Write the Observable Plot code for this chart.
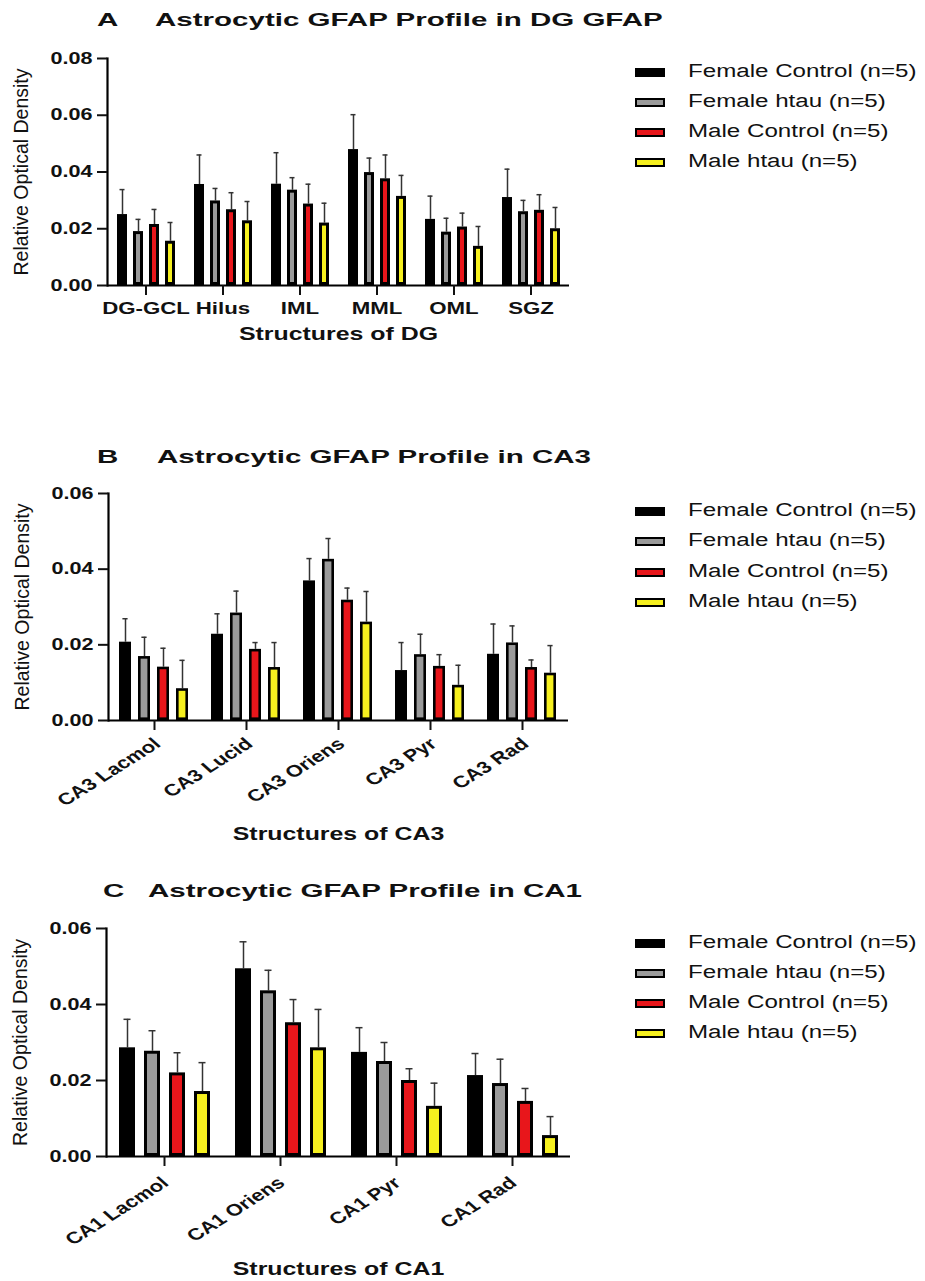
<!DOCTYPE html>
<html>
<head>
<meta charset="utf-8">
<script src="https://cdn.jsdelivr.net/npm/d3@7"></script>
<script src="https://cdn.jsdelivr.net/npm/@observablehq/plot@0.6"></script>
<style>
  body { margin: 0; background: #fff; }
  #fig { position: relative; width: 925px; height: 1281px; overflow: hidden; background: #fff;
         font-family: "Liberation Sans", Arial, Helvetica, sans-serif; color: #111; }
  .panel { position: absolute; left: 0; }
  .panel svg { overflow: visible; }
  .title { position: absolute; font-weight: bold; font-size: 18.5px; line-height: 18.5px; white-space: nowrap;
           transform: scaleX(1.595); transform-origin: 0 0; }
  .legend { position: absolute; left: 635px; }
  .item { position: absolute; left: 0; height: 30px; line-height: 30px; white-space: nowrap; font-size: 18px; }
  .sw { position: absolute; left: 0; top: 12px; width: 30px; height: 9px; box-sizing: border-box; border: 2px solid #000; }
  .lbl { position: absolute; left: 53px; top: 0; display: inline-block; transform: scaleX(1.34); transform-origin: 0 50%; }
  #fig svg text { font-family: "Liberation Sans", Arial, Helvetica, sans-serif; fill: #111; }
  g[aria-label="y-axis tick label"] { font-size: 16px; font-weight: bold; }
  g[aria-label="fx-axis tick label"] { font-size: 16px; font-weight: bold; }
  .rot g[aria-label="fx-axis tick label"] { font-size: 16.5px; }
  g[aria-label="y-axis label"] { font-size: 19.5px; font-weight: normal; }
  g[aria-label="fx-axis label"] { font-size: 19px; font-weight: bold; }
</style>
</head>
<body>
<div id="fig"></div>
<script>
// ---- shared series ----
const groups = ["Female Control (n=5)", "Female htau (n=5)", "Male Control (n=5)", "Male htau (n=5)"];
const colors = ["#000000", "#9a9a9a", "#e8161b", "#f6f01f"];
const yLabel = "Relative Optical Density";

// ---- Panel A: DG ----
const dgCats = ["DG-GCL", "Hilus", "IML", "MML", "OML", "SGZ"];
const dgFemaleControl    = [0.0250, 0.0356, 0.0357, 0.0479, 0.0233, 0.0310];
const dgFemaleControlSem = [0.0088, 0.0104, 0.0111, 0.0123, 0.0082, 0.0100];
const dgFemaleHtau       = [0.0190, 0.0298, 0.0336, 0.0398, 0.0188, 0.0260];
const dgFemaleHtauSem    = [0.0043, 0.0044, 0.0044, 0.0051, 0.0049, 0.0040];
const dgMaleControl      = [0.0215, 0.0267, 0.0287, 0.0376, 0.0206, 0.0265];
const dgMaleControlSem   = [0.0053, 0.0060, 0.0070, 0.0084, 0.0049, 0.0055];
const dgMaleHtau         = [0.0156, 0.0228, 0.0220, 0.0314, 0.0138, 0.0200];
const dgMaleHtauSem      = [0.0066, 0.0068, 0.0070, 0.0074, 0.0070, 0.0075];
const dgTicks = [0, 0.02, 0.04, 0.06, 0.08];

// ---- Panel B: CA3 ----
const ca3Cats = ["CA3 Lacmol", "CA3 Lucid", "CA3 Oriens", "CA3 Pyr", "CA3 Rad"];
const ca3FemaleControl    = [0.0207, 0.0228, 0.0369, 0.0132, 0.0175];
const ca3FemaleControlSem = [0.0062, 0.0054, 0.0059, 0.0074, 0.0080];
const ca3FemaleHtau       = [0.0169, 0.0284, 0.0426, 0.0174, 0.0205];
const ca3FemaleHtauSem    = [0.0051, 0.0058, 0.0055, 0.0054, 0.0045];
const ca3MaleControl      = [0.0141, 0.0188, 0.0318, 0.0143, 0.0140];
const ca3MaleControlSem   = [0.0050, 0.0018, 0.0032, 0.0031, 0.0020];
const ca3MaleHtau         = [0.0084, 0.0140, 0.0260, 0.0093, 0.0125];
const ca3MaleHtauSem      = [0.0075, 0.0066, 0.0081, 0.0053, 0.0073];
const ca3Ticks = [0, 0.02, 0.04, 0.06];

// ---- Panel C: CA1 ----
const ca1Cats = ["CA1 Lacmol", "CA1 Oriens", "CA1 Pyr", "CA1 Rad"];
const ca1FemaleControl    = [0.0286, 0.0494, 0.0274, 0.0213];
const ca1FemaleControlSem = [0.0075, 0.0071, 0.0065, 0.0058];
const ca1FemaleHtau       = [0.0277, 0.0436, 0.0250, 0.0192];
const ca1FemaleHtauSem    = [0.0054, 0.0054, 0.0050, 0.0064];
const ca1MaleControl      = [0.0220, 0.0352, 0.0200, 0.0145];
const ca1MaleControlSem   = [0.0053, 0.0061, 0.0031, 0.0034];
const ca1MaleHtau         = [0.0171, 0.0286, 0.0132, 0.0055];
const ca1MaleHtauSem      = [0.0076, 0.0101, 0.0061, 0.0050];
const ca1Ticks = [0, 0.02, 0.04, 0.06];

function rows(cats, means, sems) {
  const out = [];
  cats.forEach((c, i) => groups.forEach((g, j) => out.push({cat: c, group: g, mean: means[j][i], sem: sems[j][i]})));
  return out;
}

function makePanel(cfg) {
  const data = rows(cfg.cats, cfg.means, cfg.sems);
  const top = d => d.mean + d.sem;
  const xAxes = cfg.rotate
    ? [
        Plot.axisFx({anchor: "bottom", tickSize: 10, strokeWidth: 2, tickFormat: () => "",
                     label: cfg.xLabel, labelAnchor: "center", labelOffset: cfg.labelOffset, labelArrow: "none"}),
        Plot.axisFx({anchor: "bottom", tickSize: 0, tickPadding: cfg.tickPadding, tickRotate: cfg.rotate, dx: cfg.labelDx,
                     label: null})
      ]
    : [
        Plot.axisFx({anchor: "bottom", tickSize: 10, tickPadding: cfg.tickPadding, strokeWidth: 2,
                     label: cfg.xLabel, labelAnchor: "center", labelOffset: cfg.labelOffset, labelArrow: "none"})
      ];
  const svg = Plot.plot({
    width: 600,
    height: cfg.height,
    marginLeft: 106, marginRight: 30, marginTop: 18, marginBottom: cfg.marginBottom,
    fx: {domain: cfg.cats, paddingInner: 0, paddingOuter: 0},
    x: {domain: groups, paddingInner: cfg.pi, paddingOuter: cfg.po, axis: null},
    y: {domain: [0, cfg.ticks[cfg.ticks.length - 1]]},
    color: {domain: groups, range: colors},
    marks: [
      Plot.ruleX(data, {fx: "cat", x: "group", y1: "mean", y2: top, stroke: "#333", strokeWidth: 1.5}),
      Plot.tickY(data, {fx: "cat", x: "group", y: top, stroke: "#333", strokeWidth: 1.5, inset: cfg.capInset}),
      Plot.barY(data, {fx: "cat", x: "group", y: "mean", fill: "group", stroke: "#000", strokeWidth: cfg.sw, inset: cfg.sw / 2}),
      Plot.ruleY([0], {stroke: "#000", strokeWidth: 2.2}),
      Plot.frame({anchor: "left", facetAnchor: "left", stroke: "#000", strokeWidth: 2.2}),
      Plot.axisY({ticks: cfg.ticks, tickFormat: d3.format(".2f"), tickSize: 10, tickPadding: 5, strokeWidth: 2,
                  label: yLabel, labelAnchor: "center", labelOffset: 93, labelArrow: "none"}),
      ...xAxes
    ]
  });
  // the source figure's lettering is horizontally wide; widen glyphs in place
  stretchText(svg, {
    "y-axis tick label": 1.35,
    "fx-axis tick label": cfg.rotate ? 1.33 : 1.39,
    "fx-axis label": 1.31
  });
  return svg;
}

function stretchText(svg, map) {
  svg.querySelectorAll("g[aria-label]").forEach(g => {
    const s = map[g.getAttribute("aria-label")];
    if (!s) return;
    g.querySelectorAll("text").forEach(t => {
      let tr = t.getAttribute("transform") || "";
      const m = tr.match(/^\s*translate\([^)]*\)/);
      if (m) {
        tr = m[0] + ` scale(${s},1)` + tr.slice(m[0].length);
      } else {
        const x = +(t.getAttribute("x") || 0), y = +(t.getAttribute("y") || 0);
        t.removeAttribute("x"); t.removeAttribute("y");
        tr = `translate(${x},${y}) scale(${s},1) ` + tr;
      }
      t.setAttribute("transform", tr);
    });
  });
}

const fig = document.getElementById("fig");

function addPanel(top, letter, letterX, title, titleX, titleTop, legendTop, legendStep, plot, rot) {
  const t1 = document.createElement("div");
  t1.className = "title"; t1.style.left = letterX + "px"; t1.style.top = titleTop + "px"; t1.textContent = letter;
  const t2 = document.createElement("div");
  t2.className = "title"; t2.style.left = titleX + "px"; t2.style.top = titleTop + "px"; t2.textContent = title;
  fig.append(t1, t2);
  const p = document.createElement("div");
  p.className = "panel" + (rot ? " rot" : ""); p.style.top = top + "px";
  p.append(plot);
  fig.append(p);
  const lg = document.createElement("div");
  lg.className = "legend"; lg.style.top = legendTop + "px";
  groups.forEach((g, i) => {
    const it = document.createElement("div");
    it.className = "item"; it.style.top = (i * legendStep) + "px";
    const sw = document.createElement("div");
    sw.className = "sw"; sw.style.background = colors[i];
    const lb = document.createElement("span");
    lb.className = "lbl"; lb.textContent = g;
    it.append(sw, lb);
    lg.append(it);
  });
  fig.append(lg);
}

addPanel(40, "A", 97, "Astrocytic GFAP Profile in DG GFAP", 155, 11.3, 55.5, 30,
  makePanel({cats: dgCats, means: [dgFemaleControl, dgFemaleHtau, dgMaleControl, dgMaleHtau],
    sems: [dgFemaleControlSem, dgFemaleHtauSem, dgMaleControlSem, dgMaleHtauSem], ticks: dgTicks,
    height: 315, marginBottom: 70, pi: 0.4, po: 0.5, sw: 3, capInset: 2.5,
    tickPadding: 7, rotate: 0, xLabel: "Structures of DG", labelOffset: 54}), false);

addPanel(475, "B", 97, "Astrocytic GFAP Profile in CA3", 157, 447.6, 495, 30.3,
  makePanel({cats: ca3Cats, means: [ca3FemaleControl, ca3FemaleHtau, ca3MaleControl, ca3MaleHtau],
    sems: [ca3FemaleControlSem, ca3FemaleHtauSem, ca3MaleControlSem, ca3MaleHtauSem], ticks: ca3Ticks,
    height: 370, marginBottom: 125, pi: 0.35, po: 0.53, sw: 2.6, capInset: 3.4,
    tickPadding: 21, labelDx: 3, rotate: -40, xLabel: "Structures of CA3", labelOffset: 119}), true);

addPanel(910, "C", 103, "Astrocytic GFAP Profile in CA1", 148, 882.3, 927, 30,
  makePanel({cats: ca1Cats, means: [ca1FemaleControl, ca1FemaleHtau, ca1MaleControl, ca1MaleHtau],
    sems: [ca1FemaleControlSem, ca1FemaleHtauSem, ca1MaleControlSem, ca1MaleHtauSem], ticks: ca1Ticks,
    height: 371, marginBottom: 125, pi: 0.36, po: 0.48, sw: 3, capInset: 4.5,
    tickPadding: 24, labelDx: 1, rotate: -40, xLabel: "Structures of CA1", labelOffset: 118}), true);
</script>
</body>
</html>
